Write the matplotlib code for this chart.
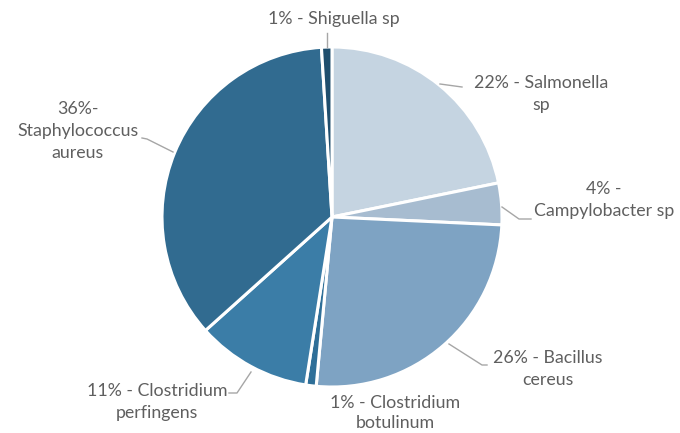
import matplotlib
matplotlib.use("Agg")
import matplotlib.pyplot as plt

categories = ["Salmonella sp", "Campylobacter sp", "Bacillus cereus",
              "Clostridium botulinum", "Clostridium perfringens",
              "Staphylococcus aureus", "Shiguella sp"]
values = [22, 4, 26, 1, 11, 36, 1]
labels = ["22% - Salmonella\nsp", "4% -\nCampylobacter sp", "26% - Bacillus\ncereus",
          "1% - Clostridium\nbotulinum", "11% - Clostridium\nperfingens",
          "36%-\nStaphylococcus\naureus", "1% - Shiguella sp"]
colors = ["#c5d4e1", "#a7bcd0", "#7ea3c3", "#2f6f98", "#3b7da7", "#316b90", "#1f4e6d"]

W, H = 680, 433
fig = plt.figure(figsize=(6.8, 4.33), dpi=100)
ax = fig.add_axes([0, 0, 1, 1])

cx, cy, R = 332, H - 217, 170
explode = [0, 0, 0.015, 0, 0, 0, 0]
ax.pie(values, colors=colors, startangle=90, counterclock=False,
       center=(cx, cy), radius=R, explode=explode,
       wedgeprops=dict(edgecolor="white", linewidth=2.2))
ax.set_xlim(0, W)
ax.set_ylim(0, H)
ax.set_aspect("equal")
ax.axis("off")

tc = "#5f5f5f"
lc = "#a6a6a6"
font = dict(family=["Lato", "DejaVu Sans"], fontsize=12.8, color=tc,
            ha="center", va="center", linespacing=1.45)

# label positions (pixel coords from top)
pos = [(541, 94), (604, 200), (548, 369), (395, 413), (157, 402), (78, 131), (334, 19)]
spacing = [1.45, 1.45, 1.45, 1.3, 1.45, 1.45, 1.45]
for lab, (px, py), ls in zip(labels, pos, spacing):
    ax.text(px, H - py, lab, **{**font, "linespacing": ls})

# leader lines
leaders = [
    [(440, 84), (462, 87)],
    [(502, 207), (519, 219), (531, 219)],
    [(449, 344), (482, 365), (487, 365)],
    [(229, 393), (237, 393), (251, 372)],
    [(142, 138), (147, 139), (173, 152)],
    [(327, 33), (327, 47)],
]
for pts in leaders:
    xs = [p[0] for p in pts]
    ys = [H - p[1] for p in pts]
    ax.plot(xs, ys, color=lc, lw=1)

fig.savefig("out.png", dpi=100)
